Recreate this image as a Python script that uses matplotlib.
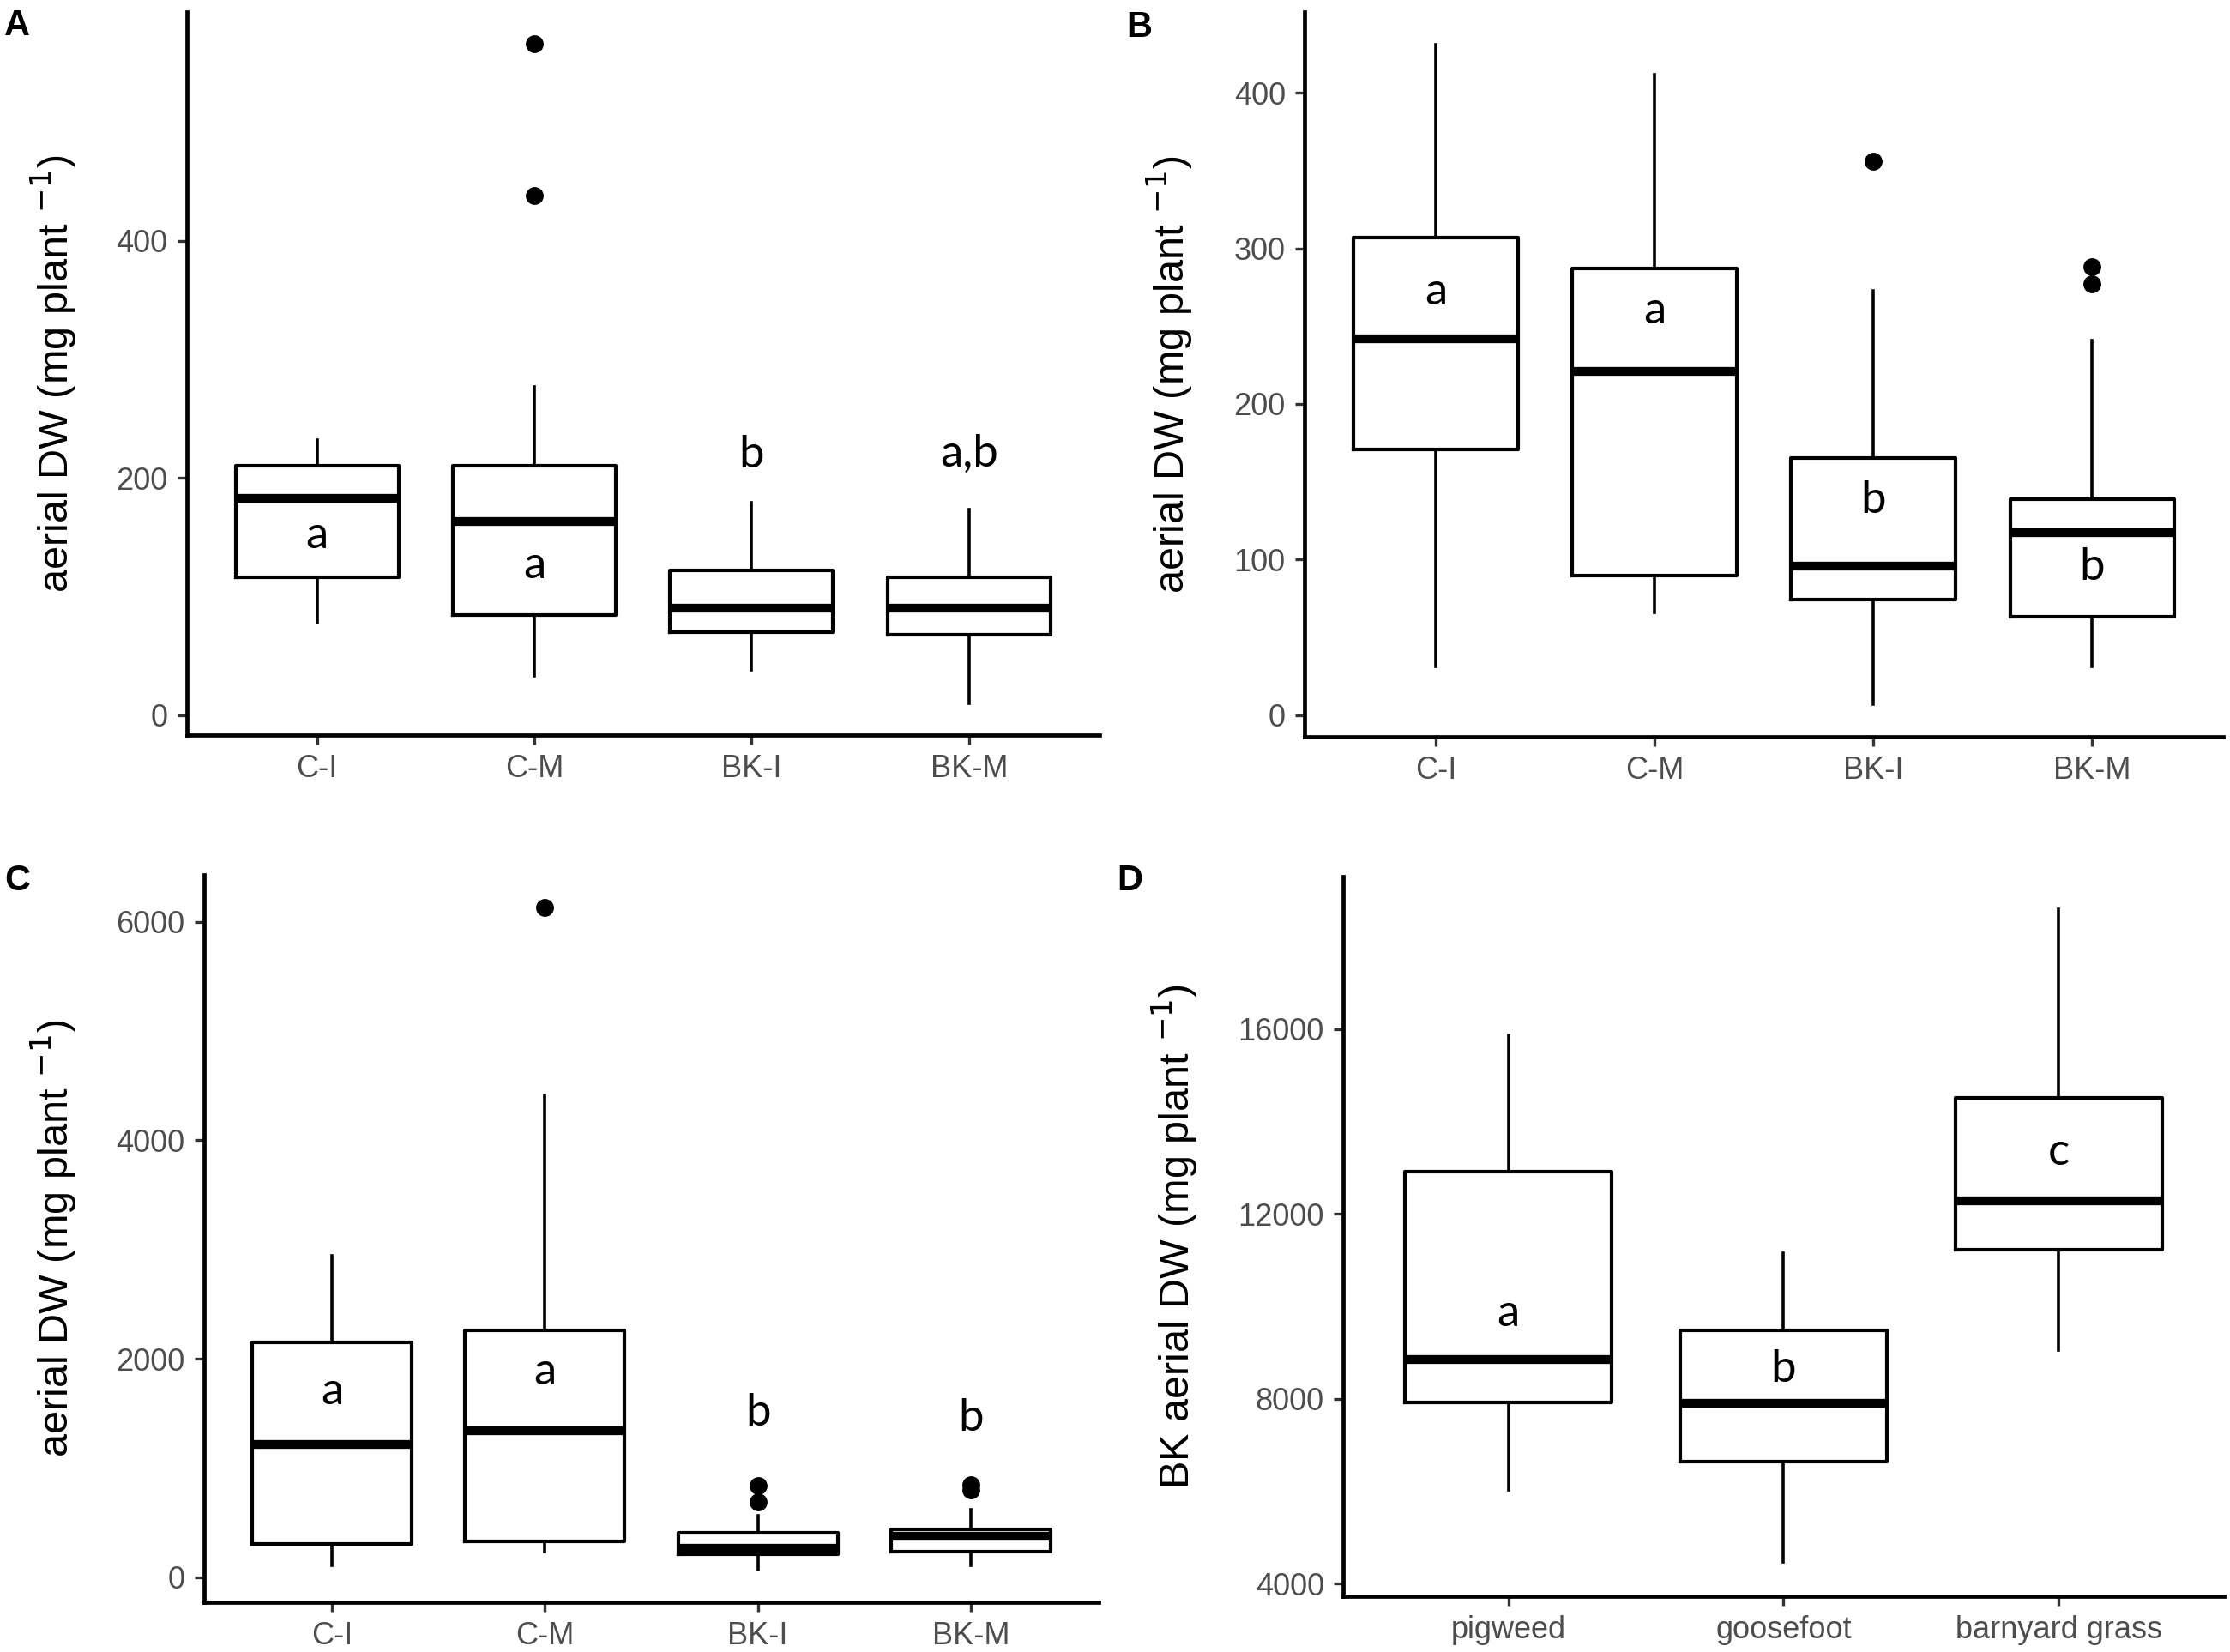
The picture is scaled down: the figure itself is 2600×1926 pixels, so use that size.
import matplotlib
matplotlib.use('Agg')
import matplotlib.pyplot as plt
from matplotlib.transforms import blended_transform_factory

plt.rcParams['font.family'] = ['Liberation Sans', 'DejaVu Sans']

# Panel A
A_cats = ['C-I', 'C-M', 'BK-I', 'BK-M']
A_q1 = [116, 84, 70, 68]
A_med = [183, 163, 90, 90]
A_q3 = [210, 210, 122, 116]
A_lo = [78, 33, 38, 10]
A_hi = [232, 277, 179, 173]
A_out = [[], [566, 438], [], []]
A_letters = ['a', 'a', 'b', 'a,b']
A_letter_y = [151, 126, 219, 220]

# Panel B
B_cats = ['C-I', 'C-M', 'BK-I', 'BK-M']
B_q1 = [171, 89.5, 74.5, 63]
B_med = [242, 221, 96, 117]
B_q3 = [307, 287, 165, 139]
B_lo = [31, 66, 7, 31]
B_hi = [431, 412, 273, 241]
B_out = [[], [], [356], [288, 277]]
B_letters = ['a', 'a', 'b', 'b']
B_letter_y = [272, 260, 138, 95]

# Panel C
C_cats = ['C-I', 'C-M', 'BK-I', 'BK-M']
C_q1 = [307, 333, 210, 236]
C_med = [1219, 1342, 265, 378]
C_q3 = [2147, 2264, 406, 437]
C_lo = [113, 236, 71, 113]
C_hi = [2941, 4411, 563, 620]
C_out = [[], [6129], [838, 694], [850, 800]]
C_letters = ['a', 'a', 'b', 'b']
C_letter_y = [1702, 1880, 1505, 1453]

# Panel D
D_cats = ['pigweed', 'goosefoot', 'barnyard grass']
D_q1 = [7913, 6630, 11228]
D_med = [8837, 7902, 12272]
D_q3 = [12913, 9478, 14500]
D_lo = [6032, 4456, 9043]
D_hi = [15870, 11141, 18587]
D_out = [[], [], []]
D_letters = ['a', 'b', 'c']
D_letter_y = [9837, 8641, 13337]

ylab = 'aerial DW (mg plant $^{-1}$)'
ylab_d = 'BK aerial DW (mg plant $^{-1}$)'

fig = plt.figure(figsize=(13, 9.63), dpi=200)

panels = [
    # tag, rect, label x (fig), cats, q1, med, q3, lo, hi, out, letters, letter_y, yticks, ylim, ylabel
    ('A', [0.0837, 0.555, 0.4093, 0.4377], 0.0243, A_cats, A_q1, A_med, A_q3, A_lo, A_hi, A_out,
     A_letters, A_letter_y, [0, 200, 400], (-17, 593), ylab),
    ('B', [0.585, 0.554, 0.412, 0.4387], 0.5246, B_cats, B_q1, B_med, B_q3, B_lo, B_hi, B_out,
     B_letters, B_letter_y, [0, 100, 200, 300, 400], (-14, 452), ylab),
    ('C', [0.0915, 0.030, 0.4012, 0.4404], 0.0243, C_cats, C_q1, C_med, C_q3, C_lo, C_hi, C_out,
     C_letters, C_letter_y, [0, 2000, 4000, 6000], (-230, 6430), ylab),
    ('D', [0.6023, 0.0337, 0.395, 0.4357], 0.527, D_cats, D_q1, D_med, D_q3, D_lo, D_hi, D_out,
     D_letters, D_letter_y, [4000, 8000, 12000, 16000], (3720, 19300), ylab_d),
]

tag_pos = {'A': (0.002, 0.995), 'B': (0.505, 0.994), 'C': (0.002, 0.477), 'D': (0.501, 0.477)}

for tag, rect, lab_x, cats, q1, med, q3, lo, hi, out, letters, letter_y, yticks, ylim, ylabel in panels:
    ax = fig.add_axes(rect)
    stats = []
    for i in range(len(cats)):
        stats.append({'q1': q1[i], 'med': med[i], 'q3': q3[i],
                      'whislo': lo[i], 'whishi': hi[i], 'fliers': out[i]})
    pos = list(range(1, len(cats) + 1))
    ax.bxp(stats, positions=pos, widths=0.75, showcaps=False,
           boxprops=dict(color='black', linewidth=1.5),
           whiskerprops=dict(color='black', linewidth=1.3),
           medianprops=dict(color='black', linewidth=3.7, solid_capstyle='butt'),
           flierprops=dict(marker='o', markerfacecolor='black', markeredgecolor='black',
                           markersize=6.5))
    for x, t, y in zip(pos, letters, letter_y):
        ax.text(x, y, t, ha='center', va='center', fontsize=19, family=['Lato', 'DejaVu Sans'])

    ax.set_xlim(0.4, len(cats) + 0.6)
    ax.set_ylim(*ylim)
    ax.set_xticks(pos)
    ax.set_xticklabels(cats)
    ax.set_yticks(yticks)
    for s in ['top', 'right']:
        ax.spines[s].set_visible(False)
    for s in ['left', 'bottom']:
        ax.spines[s].set_linewidth(1.7)
        ax.spines[s].set_color('black')
    ax.tick_params(direction='out', length=4, width=1.2, color='#333333',
                   labelcolor='#4D4D4D', labelsize=13, pad=4)
    ax.set_ylabel(ylabel, fontsize=17.5, va='center')
    ax.yaxis.set_label_coords(lab_x, 0.5,
                              transform=blended_transform_factory(fig.transFigure, ax.transAxes))
    tx, ty = tag_pos[tag]
    fig.text(tx, ty, tag, fontsize=15, fontweight='bold', ha='left', va='top')

fig.savefig('out.png', dpi=200)
